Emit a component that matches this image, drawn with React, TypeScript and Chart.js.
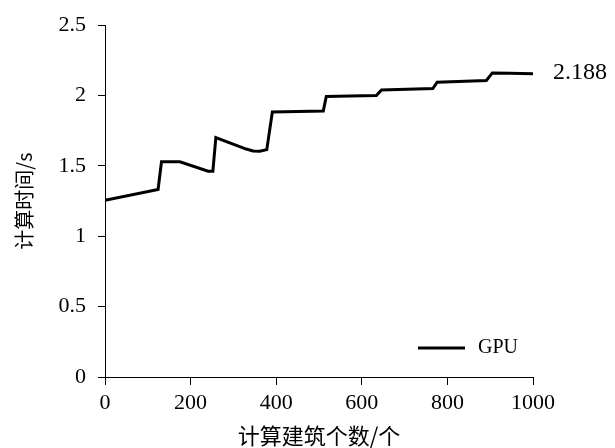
import React, { useEffect, useRef } from "react";
import { Chart, registerables } from "chart.js";

Chart.register(...registerables);

// Number of buildings computed (x) and computation time in seconds (y)
const buildingCounts = [
  0, 124, 132, 175, 241, 252, 259, 330, 346, 362, 378, 391, 510, 517, 572, 634, 646, 766, 776, 891, 905, 945, 1000,
];
const gpuTimes = [
  1.255, 1.333, 1.529, 1.529, 1.463, 1.463, 1.701, 1.62, 1.606, 1.604, 1.616, 1.883, 1.89, 1.994, 1.996, 2.0, 2.04,
  2.05, 2.095, 2.107, 2.161, 2.158, 2.155,
];
const seriesName = "GPU";
const endLabel = "2.188";
const xTitle = "计算建筑个数/个";
const yTitle = "计算时间/s";
const xTicks = [0, 200, 400, 600, 800, 1000];
const yTicks = [0, 0.5, 1, 1.5, 2, 2.5];

const SERIF = "'Liberation Serif', 'Times New Roman', serif";
const CJK = "'Noto Sans CJK SC', sans-serif";

export default function App() {
  const ref = useRef<HTMLCanvasElement | null>(null);

  useEffect(() => {
    document.body.style.margin = "0";
    const canvas = ref.current;
    if (!canvas) return;

    const overlay = {
      id: "overlay",
      afterDraw(chart: any) {
        const { ctx, chartArea, scales } = chart;
        ctx.save();
        // end value label
        const lx = scales.x.getPixelForValue(buildingCounts[buildingCounts.length - 1]);
        const ly = scales.y.getPixelForValue(gpuTimes[gpuTimes.length - 1]);
        ctx.fillStyle = "#000";
        ctx.font = `24px ${SERIF}`;
        ctx.textAlign = "left";
        ctx.textBaseline = "middle";
        ctx.fillText(endLabel, lx + 20, ly - 1);
        // legend
        ctx.font = `20px ${SERIF}`;
        const legY = chartArea.bottom - 29;
        const legX = chartArea.right - 115;
        ctx.strokeStyle = "#000";
        ctx.lineWidth = 3;
        ctx.beginPath();
        ctx.moveTo(legX, legY);
        ctx.lineTo(legX + 47, legY);
        ctx.stroke();
        ctx.fillText(seriesName, legX + 60, legY);
        ctx.restore();
      },
    };

    const chart = new Chart(canvas, {
      type: "line",
      data: {
        datasets: [
          {
            label: seriesName,
            data: buildingCounts.map((x, i) => ({ x, y: gpuTimes[i] })),
            borderColor: "#000",
            backgroundColor: "#000",
            borderWidth: 3,
            pointRadius: 0,
            tension: 0,
            fill: false,
          },
        ],
      },
      options: {
        animation: false,
        responsive: false,
        devicePixelRatio: 1,
        layout: { padding: { top: 25, right: 82, left: 0, bottom: 0 } },
        plugins: {
          legend: { display: false },
          tooltip: { enabled: false },
        },
        scales: {
          x: {
            type: "linear",
            min: 0,
            max: 1000,
            afterBuildTicks: (s: any) => {
              s.ticks = xTicks.map((v) => ({ value: v }));
            },
            afterFit: (s: any) => {
              s.height = 71;
            },
            ticks: {
              color: "#000",
              font: { family: SERIF, size: 22 },
              padding: 5,
              maxRotation: 0,
              callback: (v: any) => String(v),
            },
            grid: {
              drawOnChartArea: false,
              drawTicks: true,
              tickLength: 8,
              color: "#000",
              lineWidth: 1,
            },
            border: { display: true, color: "#000", width: 1 },
            title: {
              display: true,
              text: xTitle,
              color: "#000",
              font: { family: CJK, size: 22, lineHeight: 1 },
              padding: { top: 0, bottom: 1 },
            },
          },
          y: {
            type: "linear",
            min: 0,
            max: 2.5,
            afterBuildTicks: (s: any) => {
              s.ticks = yTicks.map((v) => ({ value: v }));
            },
            afterFit: (s: any) => {
              s.width = 105;
            },
            ticks: {
              color: "#000",
              font: { family: SERIF, size: 22 },
              padding: 12,
              callback: (v: any) => String(v),
            },
            grid: {
              drawOnChartArea: false,
              drawTicks: true,
              tickLength: 7,
              color: "#000",
              lineWidth: 1,
            },
            border: { display: true, color: "#000", width: 1 },
            title: {
              display: true,
              text: yTitle,
              color: "#000",
              font: { family: CJK, size: 20, lineHeight: 1.2 },
              padding: { top: 12, bottom: 0 },
            },
          },
        },
      },
      plugins: [overlay],
    });

    return () => chart.destroy();
  }, []);

  return (
    <div style={{ position: "absolute", left: 0, top: 0, width: 615, height: 448 }}>
      <canvas ref={ref} width={615} height={448} />
    </div>
  );
}
